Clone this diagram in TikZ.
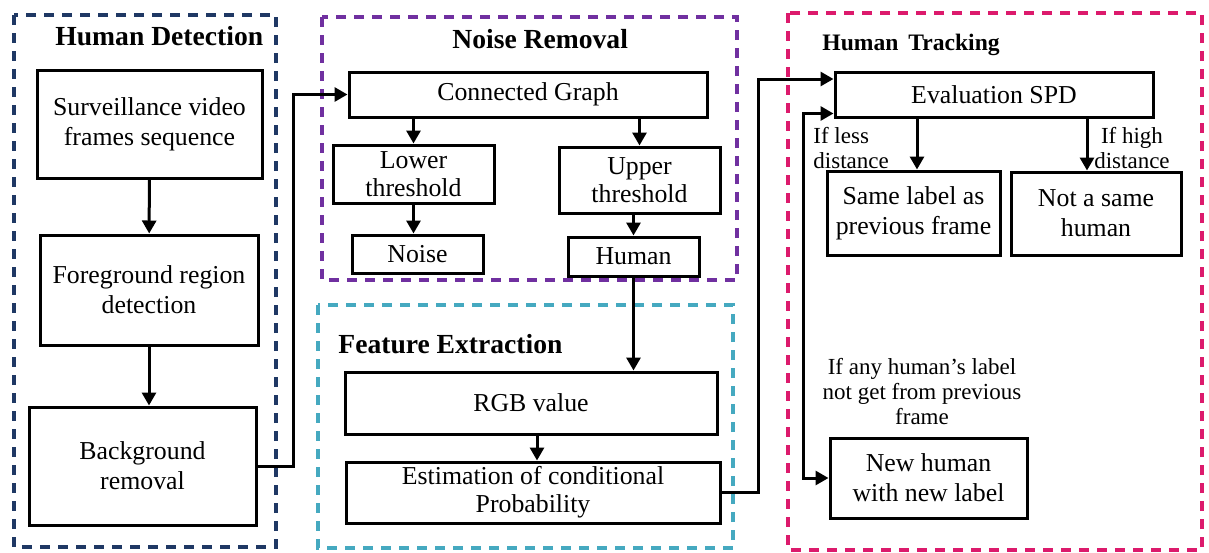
\documentclass[tikz,border=0pt]{standalone}
\usepackage{fontspec}
\setmainfont{Liberation Serif}
\usetikzlibrary{arrows.meta,positioning,calc}
\definecolor{detectcol}{HTML}{1F3864}
\definecolor{noisecol}{HTML}{7030A0}
\definecolor{featcol}{HTML}{45A9C0}
\definecolor{trackcol}{HTML}{DC1A6C}
\tikzset{box/.style={draw, rectangle, line width=1.5pt, inner sep=0pt, align=center, text centered, font=\fontsize{12.9}{15}\selectfont}}
\tikzset{tight/.style={font=\fontsize{12.9}{14}\selectfont}}
\tikzset{line/.style={draw, line width=1.5pt, -{Triangle[length=6.5pt, width=7pt]}}}
\tikzset{frame/.style={line width=1.7pt, dash pattern=on 5pt off 4pt}}
\tikzset{title/.style={font=\fontsize{13.8}{16}\selectfont\bfseries, inner sep=0pt}}
\tikzset{note/.style={font=\fontsize{11.5}{12.5}\selectfont, inner sep=0pt}}

\begin{document}
\begin{tikzpicture}[x=0.5pt, y=-0.5pt]
    \useasboundingbox (0,0) rectangle (1209,552);
    % Frames
    \draw [frame, detectcol] (14,15)   rectangle (276,547);
    \draw [frame, noisecol]  (322,17)  rectangle (737,280);
    \draw [frame, featcol]   (318,305) rectangle (733,548);
    \draw [frame, trackcol]  (788,13)  rectangle (1202,550);

    % Titles
    \node [title, anchor=base west] (tdetect) at (55,45)  {Human Detection};
    \node [title, anchor=base west] (tnoise)  at (452,48) {Noise Removal};
    \node [title, anchor=base west] (tfeat)   at (338,353) {Feature Extraction};
    \node [title, anchor=base west, font=\fontsize{11.8}{14}\selectfont\bfseries] (ttrack) at (822,50) {Human\, Tracking};

    % Nodes
    \node [box, minimum width=112.5pt, minimum height=54pt]   (surv)    at (149.5,124) {Surveillance video\\frames sequence};
    \node [box, minimum width=109pt,   minimum height=55pt]   (fore)    at (149,290)   {Foreground region\\detection};
    \node [box, minimum width=113.5pt, minimum height=59pt]   (back)    at (142.5,466) {Background\\removal};
    \node [box, minimum width=179pt,   minimum height=22.5pt] (graph)   at (528,94.5)  {Connected Graph};
    \node [box, tight, minimum width=80.5pt, minimum height=29pt] (lower) at (413.5,174) {Lower\\threshold};
    \node [box, tight, minimum width=80.5pt, minimum height=33pt] (upper) at (639.5,180) {Upper\\threshold};
    \node [box, minimum width=65.5pt,  minimum height=19pt]   (noise)   at (417.5,254) {Noise};
    \node [box, minimum width=65.5pt,  minimum height=19.5pt] (human)   at (633.5,256.5) {Human};
    \node [box, minimum width=186pt,   minimum height=31pt]   (rgb)     at (531,403)   {RGB value};
    \node [box, tight, minimum width=187pt, minimum height=30.5pt] (estim) at (533,492.5) {Estimation of conditional\\Probability};
    \node [box, minimum width=159pt,   minimum height=22.5pt] (spd)     at (994,94.5)  {Evaluation SPD};
    \node [box, minimum width=86.5pt,  minimum height=42pt]   (same)    at (913.5,213) {Same label as\\previous frame};
    \node [box, minimum width=85pt,    minimum height=41.5pt] (notsame) at (1096,213.5) {Not a same\\human};
    \node [box, minimum width=98.5pt,  minimum height=40pt]   (newh)    at (928.5,478) {New human\\with new label};

    % Labels
    \node [note, anchor=north west, align=left]  (less) at (813,127)  {If less\\distance};
    \node [note, anchor=north, align=center]     (high) at (1132,127) {If high\\distance};
    \node [note, anchor=north, align=center]     (anyh) at (922,358)  {If any human's label\\not get from previous\\frame};

    % Bend points
    \coordinate (bend1) at (293,0);
    \coordinate (bend2) at (758,0);
    \coordinate (bend3) at (803,300);

    % Paths
    \path [line] (surv) -- (fore);
    \path [line] (fore.south) -- (fore.south |- back.north);
    \path [line] (back.east) -- (back.east -| bend1) |- (graph.west);
    \path [line] (lower.north |- graph.south) -- (lower.north);
    \path [line] (upper.north |- graph.south) -- (upper.north);
    \path [line] (lower.south) -- (lower.south |- noise.north);
    \path [line] (human.north |- upper.south) -- (human.north);
    \path [line] (human.south) -- (human.south |- rgb.north);
    \path [line] ([xshift=3pt]rgb.south) -- ([xshift=3pt]rgb.south |- estim.north);
    \path [line] (estim.east) -- (estim.east -| bend2) |- ([yshift=7.75pt]spd.west);
    \path [line, {Triangle[length=6.5pt, width=7pt]}-{Triangle[length=6.5pt, width=7pt]}] ([yshift=-9.5pt]spd.west) -| (bend3) |- (newh.west);
    \path [line] ([xshift=1.75pt]same.north |- spd.south) -- ([xshift=1.75pt]same.north);
    \path [line] ([xshift=-4.5pt]notsame.north |- spd.south) -- ([xshift=-4.5pt]notsame.north);
\end{tikzpicture}
\end{document}
